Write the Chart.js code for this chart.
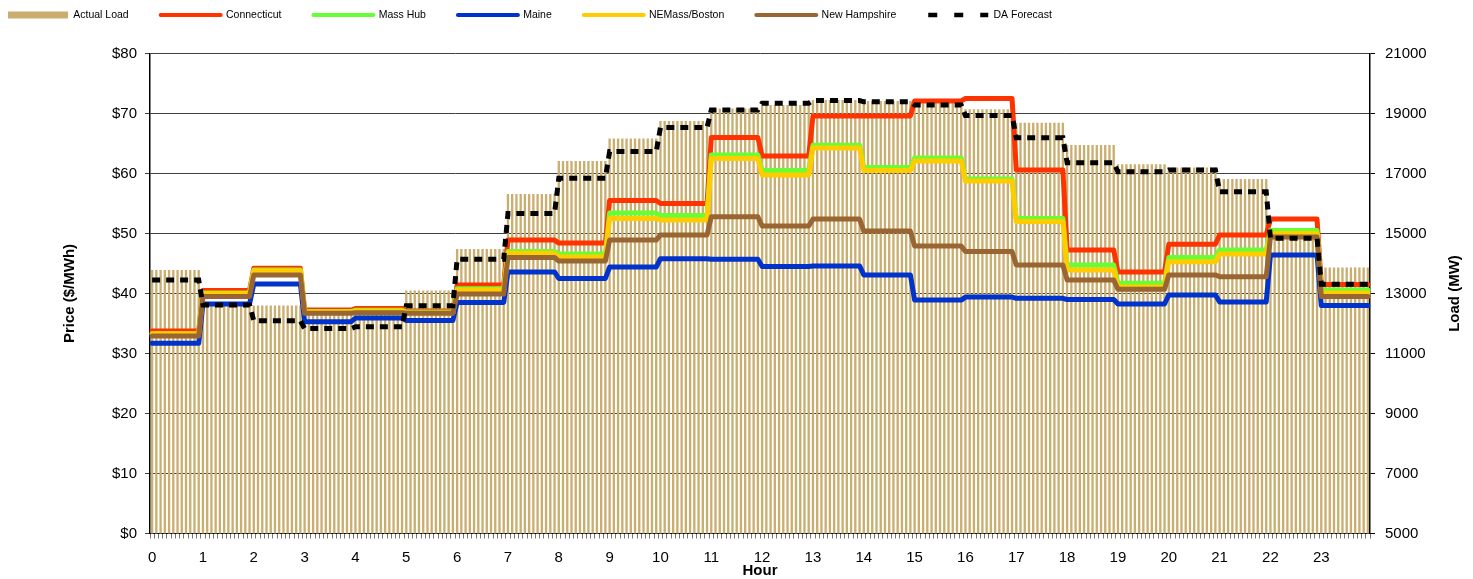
<!DOCTYPE html>
<html><head><meta charset="utf-8">
<script src="https://cdn.jsdelivr.net/npm/chart.js@4.4.0/dist/chart.umd.min.js"></script>
<style>html,body{margin:0;padding:0;background:#fff;}</style>
</head><body>
<canvas id="c" width="1473" height="579"></canvas>
<script>
// ---- data ----
const hourLabels = ['0','1','2','3','4','5','6','7','8','9','10','11','12','13','14','15','16','17','18','19','20','21','22','23'];
const slotsPerHour = 12; // 5-minute slots
const actualLoad   = [13780,12600,12600,12350,12350,13100,14480,16320,17420,18170,18750,19170,19280,19450,19420,19340,19140,18690,17950,17310,17200,16820,14950,13870];
const daForecast   = [13450,12620,12090,11830,11890,12590,14140,15670,16840,17730,18530,19120,19340,19430,19390,19280,18930,18190,17360,17060,17120,16390,14840,13310];
const connecticut  = [33.75,40.5,44.2,37.25,37.5,37.1,41.4,48.9,48.4,55.5,55.0,66.0,62.9,69.6,69.6,72.1,72.5,60.6,47.25,43.6,48.2,49.75,52.4,41.5];
const massHub      = [33.3,40.1,43.9,37.0,37.2,36.9,40.8,47.0,46.6,53.4,53.0,63.1,60.5,64.7,61.0,62.6,59.1,52.5,44.75,41.7,46.0,47.25,50.5,40.6];
const maine        = [31.7,38.25,41.6,35.3,35.9,35.5,38.5,43.6,42.5,44.4,45.8,45.7,44.5,44.6,43.1,38.9,39.4,39.2,39.0,38.25,39.75,38.6,46.4,38.0];
const neMassBoston = [33.3,40.0,43.8,36.9,37.1,36.8,40.6,46.7,46.1,52.5,52.25,62.5,59.75,64.25,60.5,62.1,58.75,52.0,43.9,41.1,45.3,46.6,50.0,40.1];
const newHampshire = [32.9,39.5,43.1,36.7,36.8,36.7,39.9,46.0,45.4,48.9,49.75,52.8,51.25,52.4,50.4,47.9,47.0,44.75,42.25,40.7,43.1,42.8,49.4,39.5];

// hourly values are held for each 5-minute slot of the hour
const toSlots = arr => arr.flatMap(v => Array(slotsPerHour).fill(v));
const categories = hourLabels.flatMap(h => Array.from({length: slotsPerHour}, (_, m) => h + ':' + String(m * 5).padStart(2, '0')));

Chart.defaults.font.family = '"Liberation Sans", Arial, sans-serif';
Chart.defaults.color = '#000';

const lineDs = (label, data, color, order) => ({
  type: 'line', label, data: toSlots(data), yAxisID: 'y', borderColor: color, backgroundColor: color,
  borderWidth: 5, pointRadius: 0, tension: 0, borderJoinStyle: 'round', borderCapStyle: 'round', order
});

const legendShift = {
  id: 'legendShift',
  afterLayout(chart) {
    const lg = chart.legend;
    if (lg) { lg.top = -22.25; lg.left = -24; }
  }
};
const rightTitle = {
  id: 'rightTitle',
  afterDraw(chart) {
    const t = chart.options.scales.y2.title;
    const ca = chart.chartArea;
    const ctx = chart.ctx;
    ctx.save();
    ctx.translate(chart.width - 18, (ca.top + ca.bottom) / 2);
    ctx.rotate(-Math.PI / 2);
    ctx.font = 'bold 15px "Liberation Sans", Arial, sans-serif';
    ctx.fillStyle = '#000';
    ctx.textAlign = 'center';
    ctx.textBaseline = 'middle';
    ctx.fillText(t.text, 0, 0);
    ctx.restore();
  }
};

new Chart(document.getElementById('c'), {
  data: {
    labels: categories,
    datasets: [
      { type: 'bar', label: 'Actual Load', data: toSlots(actualLoad), yAxisID: 'y2',
        backgroundColor: '#C9AE6F', borderWidth: 0, barPercentage: 0.55, categoryPercentage: 1.0, order: 7 },
      lineDs('Connecticut', connecticut, '#FF3300', 6),
      lineDs('Mass Hub', massHub, '#66FF33', 5),
      lineDs('Maine', maine, '#0033CC', 4),
      lineDs('NEMass/Boston', neMassBoston, '#FFCC00', 3),
      lineDs('New Hampshire', newHampshire, '#996633', 2),
      { type: 'line', label: 'DA Forecast', data: toSlots(daForecast), yAxisID: 'y2', borderColor: '#000', backgroundColor: '#000',
        borderWidth: 5, borderDash: [8, 6], borderCapStyle: 'butt', pointRadius: 0, tension: 0, order: 1 }
    ]
  },
  options: {
    responsive: false, animation: false, devicePixelRatio: 1,
    layout: { padding: { top: 1, left: 0, right: 0, bottom: 0 } },
    plugins: {
      tooltip: { enabled: false },
      legend: {
        position: 'top', align: 'start',
        labels: {
          usePointStyle: true, pointStyleWidth: 60, boxHeight: 7, padding: 32,
          font: { size: 10.5 }, color: '#000',
          sort: (a, b) => a.datasetIndex - b.datasetIndex,
          generateLabels(chart) {
            const items = Chart.defaults.plugins.legend.labels.generateLabels(chart);
            return items.map(it => {
              const ds = chart.data.datasets[it.datasetIndex];
              if (ds.type === 'bar') {
                return Object.assign(it, { pointStyle: 'rect', fillStyle: ds.backgroundColor, lineWidth: 0 });
              }
              if (ds.label === 'DA Forecast') {
                return Object.assign(it, { pointStyle: 'line', strokeStyle: '#000', lineWidth: 4.5, lineDash: [9, 17], lineCap: 'butt' });
              }
              return Object.assign(it, { pointStyle: 'line', strokeStyle: ds.borderColor, lineWidth: 4, lineDash: [], lineCap: 'round' });
            });
          }
        }
      }
    },
    scales: {
      x: {
        type: 'category', offset: true,
        grid: { display: true, drawOnChartArea: false, drawTicks: true, tickLength: 5, color: '#777', offset: true },
        border: { display: true, color: '#000', width: 1 },
        ticks: { autoSkip: false, maxRotation: 0, minRotation: 0, padding: 10, font: { size: 15 },
          callback: (v, i) => (i % slotsPerHour === 0 ? hourLabels[i / slotsPerHour] : '') },
        title: { display: true, text: 'Hour', font: { size: 15, weight: 'bold', lineHeight: 1 }, padding: { top: 0, bottom: 1 } },
        afterFit(s) { s.height = 45.5; }
      },
      y: {
        position: 'left', min: 0, max: 80,
        grid: { color: '#404040', lineWidth: 1, tickLength: 5, drawTicks: true },
        border: { display: true, color: '#000', width: 1.5 },
        ticks: { stepSize: 10, padding: 8, font: { size: 15 }, callback: v => '$' + v },
        title: { display: true, text: 'Price ($/MWh)', font: { size: 15, weight: 'bold', lineHeight: 1.2 }, padding: { top: 61, bottom: 0 } },
        afterFit(s) { s.width = 150; }
      },
      y2: {
        position: 'right', min: 5000, max: 21000,
        grid: { drawOnChartArea: false, color: '#000', tickLength: 5, drawTicks: true },
        border: { display: true, color: '#000', width: 1.5 },
        ticks: { stepSize: 2000, padding: 10, font: { size: 15 }, callback: v => String(v) },
        title: { display: false, text: 'Load (MW)' },
        afterFit(s) { s.width = 103; }
      }
    }
  },
  plugins: [legendShift, rightTitle]
});
</script>
</body></html>
